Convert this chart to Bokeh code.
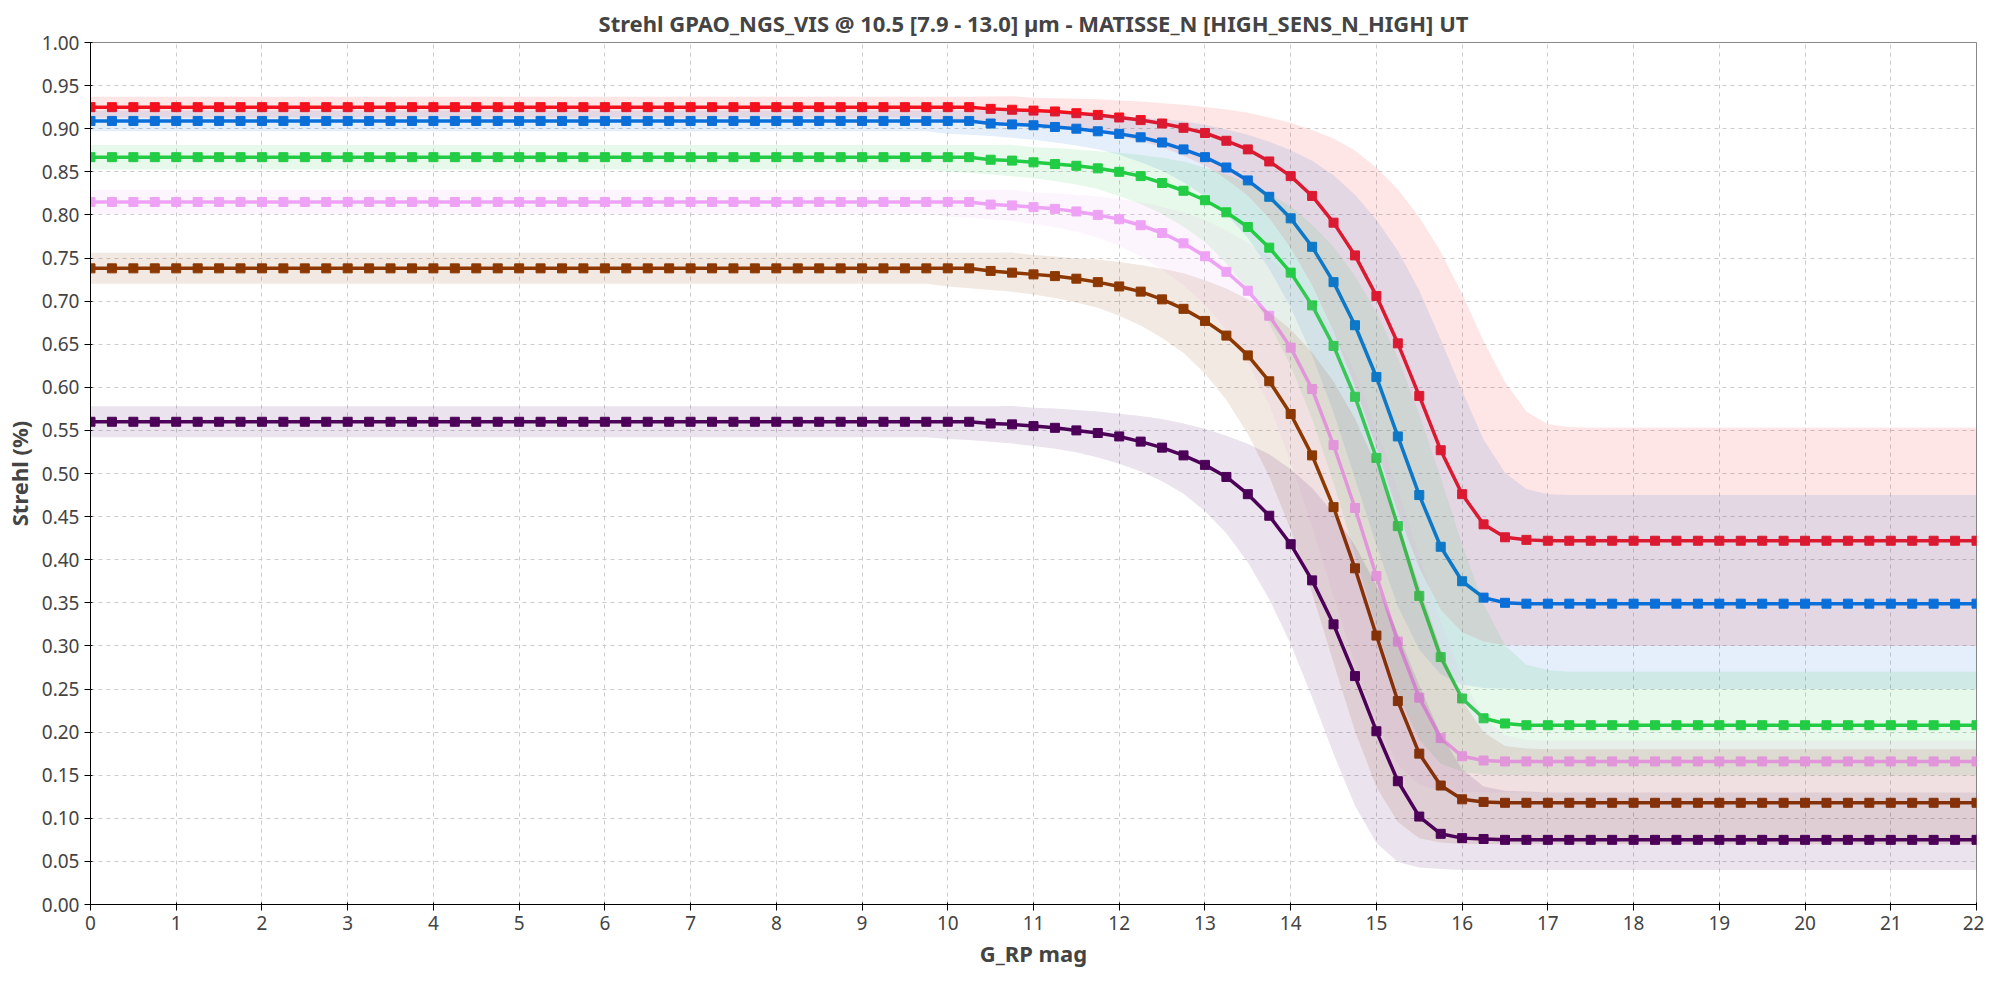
import numpy as np
from bokeh.plotting import figure
from bokeh.models import Legend, LegendItem, FixedTicker, NumeralTickFormatter, ColumnDataSource
from bokeh.embed import file_html
from bokeh.resources import INLINE

x = [i * 0.25 for i in range(89)]  # 0 .. 22
names = ["Seeing 0.6", "Seeing 0.7", "Seeing 1.0", "Seeing 1.15", "Seeing 1.4", "Seeing 1.8"]
colors = ["#f5101e", "#0a6fd8", "#22cc44", "#eea2f5", "#8c3800", "#4c0058"]
plateau = [0.925, 0.909, 0.867, 0.815, 0.738, 0.560]
endval = [0.422, 0.349, 0.208, 0.166, 0.118, 0.075]
# transition values for x = 10.5 .. 17.5 step 0.25
trans = [
 [0.923,0.922,0.921,0.920,0.918,0.916,0.913,0.910,0.906,0.901,0.895,0.886,0.876,0.862,0.845,0.822,0.791,0.753,0.706,0.651,0.590,0.527,0.476,0.441,0.426,0.423,0.422,0.422,0.422],
 [0.906,0.905,0.904,0.902,0.900,0.897,0.894,0.890,0.884,0.876,0.867,0.855,0.840,0.821,0.796,0.763,0.722,0.672,0.612,0.543,0.475,0.415,0.375,0.356,0.350,0.349,0.349,0.349,0.349],
 [0.864,0.863,0.861,0.859,0.857,0.854,0.850,0.845,0.837,0.828,0.817,0.803,0.786,0.762,0.733,0.695,0.648,0.589,0.518,0.439,0.358,0.287,0.239,0.216,0.210,0.208,0.208,0.208,0.208],
 [0.812,0.811,0.809,0.807,0.804,0.800,0.795,0.788,0.779,0.767,0.752,0.734,0.712,0.683,0.646,0.598,0.533,0.460,0.381,0.305,0.240,0.193,0.172,0.167,0.166,0.166,0.166,0.166,0.166],
 [0.735,0.733,0.731,0.729,0.726,0.722,0.717,0.711,0.702,0.691,0.677,0.660,0.637,0.607,0.569,0.521,0.461,0.390,0.312,0.236,0.175,0.138,0.122,0.119,0.118,0.118,0.118,0.118,0.118],
 [0.558,0.557,0.555,0.553,0.550,0.547,0.543,0.537,0.530,0.521,0.510,0.496,0.476,0.451,0.418,0.376,0.325,0.265,0.201,0.143,0.102,0.082,0.077,0.076,0.075,0.075,0.075,0.075,0.075],
]
band_lo_end = [0.300, 0.250, 0.150, 0.130, 0.070, 0.040]
band_hi_end = [0.553, 0.475, 0.270, 0.190, 0.180, 0.130]
band_pad = [0.012, 0.012, 0.014, 0.014, 0.018, 0.018]

p = figure(width=1984, height=984, output_backend="svg", toolbar_location=None,
           x_range=(0, 22), y_range=(0, 1.0),
           title="Strehl GPAO_NGS_VIS @ 10.5 [7.9 - 13.0] µm - MATISSE_N [HIGH_SENS_N_HIGH] UT",
           x_axis_label="G_RP mag", y_axis_label="Strehl (%)",
           min_border_right=8, min_border_bottom=80, min_border_left=90)
p.title.align = "center"
p.title.text_font = "Noto Sans"
p.title.text_font_size = "22px"
p.title.text_font_style = "bold"
for ax in (p.xaxis[0], p.yaxis[0]):
    ax.axis_label_text_font = "Noto Sans"
    ax.axis_label_text_font_style = "bold"
    ax.axis_label_text_font_size = "22px"
    ax.major_label_text_font = "Noto Sans"
    ax.major_label_text_font_size = "19px"
    ax.minor_tick_line_color = None
p.xaxis.ticker = FixedTicker(ticks=list(range(23)))
p.yaxis.ticker = FixedTicker(ticks=[round(i * 0.05, 2) for i in range(21)])
p.yaxis.formatter = NumeralTickFormatter(format="0.00")
p.grid.grid_line_color = "#cccccc"
p.grid.grid_line_dash = "4 4"
p.outline_line_color = "#888888"

xa = np.array(x)
items = []
for i in range(6):
    y = np.array([plateau[i]] * 42 + trans[i] + [endval[i]] * 18)
    frac = (plateau[i] - y) / (plateau[i] - endval[i])
    hi = np.interp(xa - 0.5, xa, y) + band_pad[i] + frac * (band_hi_end[i] - endval[i] - band_pad[i])
    lo = np.interp(xa + 0.5, xa, y) - band_pad[i] - frac * (endval[i] - band_lo_end[i] - band_pad[i])
    p.varea(x=xa, y1=lo, y2=hi, fill_color=colors[i], fill_alpha=0.11)
    src = ColumnDataSource(dict(x=xa, y=y))
    r1 = p.line("x", "y", source=src, line_color=colors[i], line_width=3.5)
    r2 = p.scatter("x", "y", source=src, marker="square", size=9, fill_color=colors[i], line_color=colors[i])
    items.append(LegendItem(label=names[i], renderers=[r1, r2]))

leg = Legend(items=items, orientation="horizontal", location=(580, -80),
             label_text_font="Noto Sans", label_text_font_size="19px",
             border_line_color=None, background_fill_alpha=0,
             spacing=2, glyph_width=22, label_standoff=2, padding=4)
p.add_layout(leg, "center")

open("out.html", "w").write(file_html(p, INLINE))
